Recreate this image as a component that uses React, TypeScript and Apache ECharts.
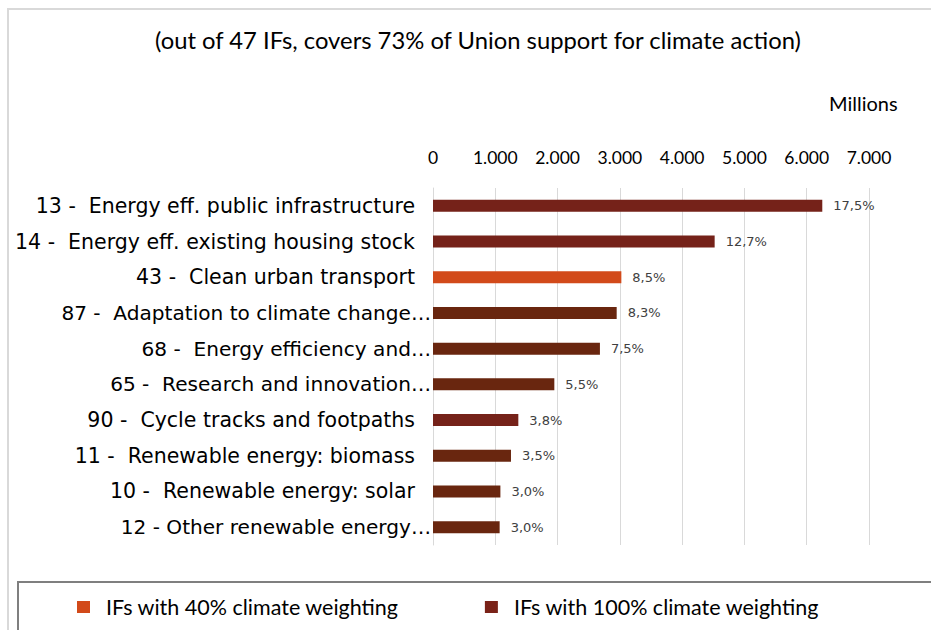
import React, { useEffect, useRef } from "react";
import * as echarts from "echarts";

const categories = [
  "13 -\u00a0 Energy eff. public infrastructure",
  "14 -\u00a0 Energy eff. existing housing stock",
  "43 -\u00a0 Clean urban transport",
  "87 -\u00a0 Adaptation to climate change…",
  "68 -\u00a0 Energy efficiency and…",
  "65 -\u00a0 Research and innovation…",
  "90 -\u00a0 Cycle tracks and footpaths",
  "11 -\u00a0 Renewable energy: biomass",
  "10 -\u00a0 Renewable energy: solar",
  "12 - Other renewable energy…",
];
const values = [6250, 4522, 3024, 2949, 2680, 1948, 1370, 1252, 1082, 1070];
const shares = ["17,5%", "12,7%", "8,5%", "8,3%", "7,5%", "5,5%", "3,8%", "3,5%", "3,0%", "3,0%"];
const weighting = [100, 100, 40, 100, 100, 100, 100, 100, 100, 100];
const tickValues = [0, 1000, 2000, 3000, 4000, 5000, 6000, 7000];
const seriesNames = ["IFs with 40% climate weighting", "IFs with 100% climate weighting"];
const titleText = "(out of 47 IFs, covers 73% of Union support for climate action)";
const unitText = "Millions";

const C40 = "#d24a1a";
const C100 = "#752219";
const C100b = "#69260f";
const shade100 = [C100, C100, C100, C100b, C100b, C100b, C100, C100b, C100b, C100b];

export default function App() {
  const ref = useRef<HTMLDivElement>(null);
  useEffect(() => {
    if (!ref.current) return;
    const chart = echarts.init(ref.current, undefined, { renderer: "svg" });
    const fmtTick = (v: number) => String(v).replace(/\B(?=(\d{3})+(?!\d))/g, ".");
    const s40 = values.map((v, i) => (weighting[i] === 40 ? v : null));
    const s100 = values.map((v, i) =>
      weighting[i] === 100 ? { value: v, itemStyle: { color: shade100[i] } } : null
    );
    const labelCfg = {
      show: true,
      position: "right",
      distance: 11,
      fontFamily: "DejaVu Sans",
      fontSize: 13,
      color: "#404040",
      formatter: (p: any) => shares[p.dataIndex],
    };
    chart.setOption({
      animation: false,
      backgroundColor: "#ffffff",
      title: {
        text: titleText,
        left: 473,
        textAlign: "center",
        top: 23,
        textStyle: { fontFamily: "Lato", fontSize: 23.8, fontWeight: "normal", color: "#000" },
      },
      graphic: [
        {
          type: "rect",
          shape: { x: 8, y: 9, width: 1000, height: 1000 },
          style: { fill: "none", stroke: "#d9d9d9", lineWidth: 2 },
          silent: true,
        },
        {
          type: "rect",
          shape: { x: 18, y: 582, width: 1000, height: 200 },
          style: { fill: "none", stroke: "#7f7f7f", lineWidth: 2 },
          silent: true,
        },
        {
          type: "text",
          left: 829,
          top: 93,
          style: { text: unitText, fontFamily: "Lato", fontSize: 20, fill: "#000" },
        },
      ],
      legend: {
        data: seriesNames.map((n, i) => ({ name: n, itemStyle: { color: i === 0 ? C40 : "#7a2218" } })),
        left: 77,
        top: 596,
        padding: 0,
        itemWidth: 13,
        itemHeight: 12,
        itemGap: 86,
        icon: "rect",
        textStyle: {
          fontFamily: "Lato",
          fontSize: 21.5,
          lineHeight: 22,
          color: "#000",
          padding: [0, 0, 0, 11],
        },
      },
      grid: { left: 433, right: 62, top: 188, bottom: 85 },
      xAxis: {
        type: "value",
        position: "top",
        min: 0,
        max: 7000,
        interval: 1000,
        axisLine: { show: false },
        axisTick: { show: false },
        splitLine: { lineStyle: { color: "#d9d9d9", width: 1 } },
        axisLabel: {
          margin: 22,
          fontFamily: "Lato",
          fontSize: 17.5,
          color: "#000",
          formatter: (v: number) => (tickValues.includes(v) ? fmtTick(v) : ""),
        },
      },
      yAxis: {
        type: "category",
        inverse: true,
        data: categories,
        axisLine: { show: true, lineStyle: { color: "#d9d9d9", width: 1 } },
        axisTick: { show: false },
        axisLabel: {
          margin: 2,
          fontFamily: "DejaVu Sans",
          fontSize: 20,
          color: "#000",
          formatter: (v: string) => (v.endsWith("…") ? `{e|${v}}` : `{n|${v}}`),
          rich: {
            e: { fontFamily: "DejaVu Sans", fontSize: 20.1, color: "#000" },
            n: { fontFamily: "DejaVu Sans", fontSize: 20.5, color: "#000", padding: [0, 16, 0, 0] },
          },
        },
      },
      series: [
        {
          name: seriesNames[0],
          type: "bar",
          stack: "t",
          barWidth: 12,
          data: s40,
          itemStyle: { color: C40 },
          label: labelCfg,
        },
        {
          name: seriesNames[1],
          type: "bar",
          stack: "t",
          barWidth: 12,
          data: s100,
          itemStyle: { color: C100 },
          label: labelCfg,
        },
      ],
    });
    return () => chart.dispose();
  }, []);
  return (
    <div
      ref={ref}
      style={{ position: "fixed", left: 0, top: 0, width: 931, height: 630, background: "#fff" }}
    />
  );
}
